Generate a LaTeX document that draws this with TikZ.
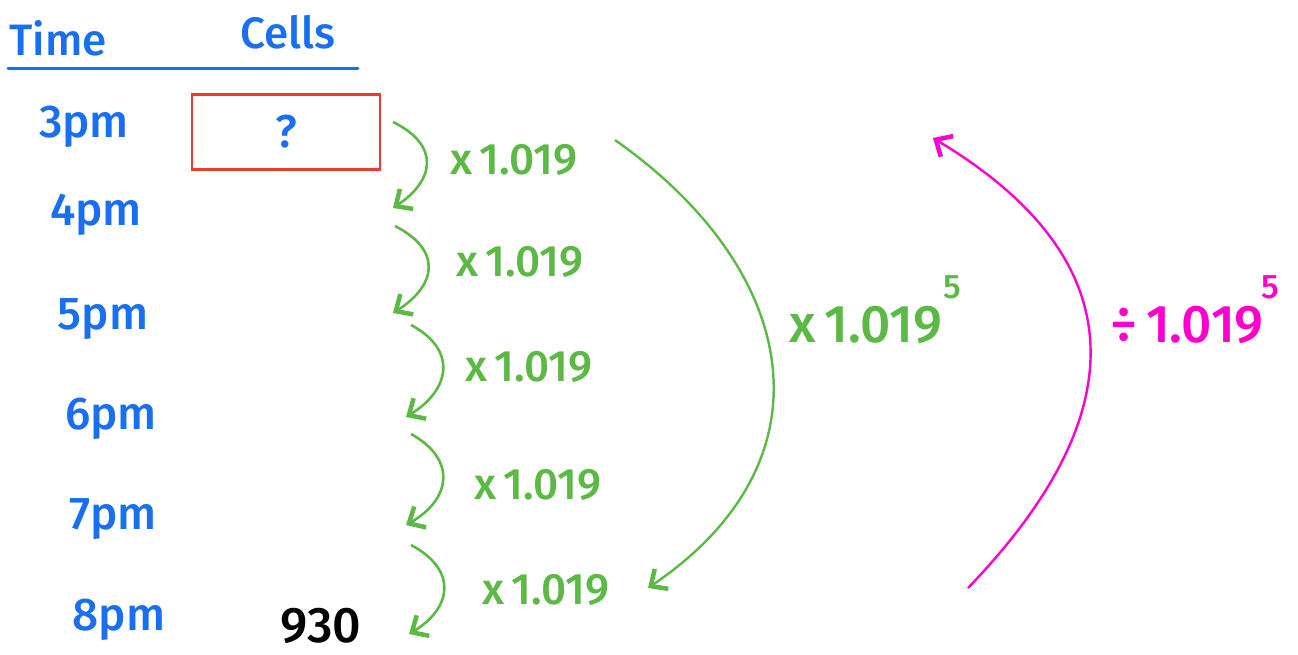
\documentclass[tikz,border=0pt]{standalone}
\usepackage{fontspec}
\setmainfont{Fira Sans}[UprightFont=* Medium]
\usetikzlibrary{arrows.meta}
\definecolor{penblue}{HTML}{1A6FF0}
\definecolor{pengreen}{HTML}{5DB946}
\definecolor{penpink}{HTML}{FF00CC}
\definecolor{penred}{HTML}{EE3A2C}
\tikzset{
  hdr/.style={text=penblue, font=\fontsize{44}{44}\selectfont, inner sep=0pt},
  hour/.style={text=penblue, font=\fontsize{46}{46}\selectfont, inner sep=0pt},
  factor/.style={text=pengreen, font=\fontsize{44}{44}\selectfont, inner sep=0pt},
  bigfactor/.style={font=\fontsize{53}{53}\selectfont, inner sep=0pt},
  expo/.style={font=\fontsize{34}{34}\selectfont, inner sep=0pt},
  tip/.style={-{Straight Barb[length=13pt,width=24pt,line width=4.5pt]}},
  hop/.style={draw=pengreen, line width=2.6pt, tip},
  sweep/.style={line width=2.4pt, tip},
}
\begin{document}
\begin{tikzpicture}[x=1pt,y=-1pt]
\useasboundingbox (0,0) rectangle (1298,654);

% column headings and rule
\node[hdr] (time) at (58,38) {Time};
\node[hdr] (cells) at (288,32) {Cells};
\draw[penblue, line width=3pt, line cap=round] (8,68) -- (358,68);

% unknown starting value
\node[draw=penred, line width=2.2pt, minimum width=188pt, minimum height=75pt, inner sep=0pt] (box) at (286,132) {};
\node[text=penblue, font=\fontsize{46}{46}\selectfont] (q) at (box.center) {?};

% hours
\node[hour] (h3) at (84,127) {3pm};
\node[hour] (h4) at (96,215) {4pm};
\node[hour] (h5) at (103,319) {5pm};
\node[hour] (h6) at (111,419) {6pm};
\node[hour] (h7) at (113,519) {7pm};
\node[hour] (h8) at (119,620) {8pm};
\node[font=\fontsize{50}{50}\selectfont, inner sep=0pt] (v8) at (321,626) {930};

% hourly growth steps
\coordinate (s1) at (393,122); \coordinate (e1) at (393,208);
\coordinate (s2) at (395,226); \coordinate (e2) at (393,313);
\coordinate (s3) at (411,325); \coordinate (e3) at (406,417);
\coordinate (s4) at (411,434); \coordinate (e4) at (406,525);
\coordinate (s5) at (411,545); \coordinate (e5) at (409,634);
\draw[hop] (s1) .. controls (440,145) and (435,180) .. (e1);
\draw[hop] (s2) .. controls (442,250) and (437,285) .. (e2);
\draw[hop] (s3) .. controls (458,350) and (450,390) .. (e3);
\draw[hop] (s4) .. controls (458,460) and (450,500) .. (e4);
\draw[hop] (s5) .. controls (458,570) and (452,608) .. (e5);

\node[factor] (f1) at (514,160) {x\,1.019};
\node[factor] (f2) at (520,262) {x\,1.019};
\node[factor] (f3) at (529,367) {x\,1.019};
\node[factor] (f4) at (538,485) {x\,1.019};
\node[factor] (f5) at (546,590) {x\,1.019};

% five hours at once, forwards
\coordinate (gs) at (615,140); \coordinate (ge) at (648,588);
\draw[sweep, draw=pengreen] (gs) .. controls (800,270) and (837,460) .. (ge);
\node[bigfactor, text=pengreen] (gf) at (866,325) {x\,1.019};
\node[expo, text=pengreen] (gx) at (952,287) {5};

% five hours at once, backwards
\coordinate (ps) at (968,588); \coordinate (pe) at (933,138);
\draw[sweep, draw=penpink] (ps) .. controls (1120,430) and (1153,270) .. (pe);
\node[bigfactor, text=penpink] (pf) at (1187,325) {÷\,1.019};
\node[expo, text=penpink] (px) at (1270,287) {5};
\end{tikzpicture}
\end{document}
